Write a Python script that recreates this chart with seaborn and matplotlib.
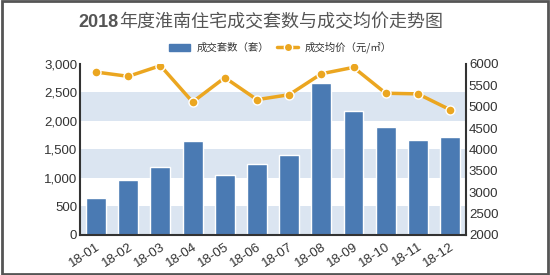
import matplotlib
matplotlib.use("Agg")
import matplotlib.pyplot as plt
import seaborn as sns
import pandas as pd
from matplotlib.patches import Rectangle
from matplotlib.lines import Line2D

months = ["18-01", "18-02", "18-03", "18-04", "18-05", "18-06",
          "18-07", "18-08", "18-09", "18-10", "18-11", "18-12"]
units = [650, 960, 1200, 1650, 1050, 1240, 1410, 2660, 2180, 1900, 1670, 1725]
prices = [5810, 5710, 5960, 5110, 5680, 5165, 5280, 5770, 5920, 5315, 5300, 4930]

left_ticks = [0, 500, 1000, 1500, 2000, 2500, 3000]
right_ticks = [2000, 2500, 3000, 3500, 4000, 4500, 5000, 5500, 6000]

sns.set_theme(style="white")
plt.rcParams['font.family'] = ['Liberation Sans', 'Noto Sans CJK SC', 'DejaVu Sans']

bar_color = "#4a7ab3"
line_color = "#eba620"
band_color = "#dbe5f1"
text_color = "#333333"

df = pd.DataFrame({"month": months, "units": units, "price": prices})

fig = plt.figure(figsize=(5.5, 2.75), dpi=100)
ax = fig.add_axes([0.1455, 0.1455, 0.702, 0.622])

for lo in [0, 1000, 2000]:
    ax.axhspan(lo, lo + 500, color=band_color, zorder=0, lw=0)

sns.barplot(data=df, x="month", y="units", color=bar_color, width=0.62,
            saturation=1, ax=ax, zorder=2)
ax.set_ylim(0, 3000)
ax.set_yticks(left_ticks)
ax.set_yticklabels([f"{v:,}" for v in left_ticks])
ax.set_xlabel("")
ax.set_ylabel("")
ax.set_xlim(-0.5, 11.5)

ax2 = ax.twinx()
sns.lineplot(x=list(range(len(months))), y=prices, ax=ax2, color=line_color,
             lw=2.5, marker="o", markersize=6.5, markeredgecolor="white",
             markeredgewidth=1.0, zorder=3)
ax2.set_ylim(2000, 6000)
ax2.set_yticks(right_ticks)
ax2.set_yticklabels([str(v) for v in right_ticks])
ax2.set_xlim(-0.5, 11.5)

for a in (ax, ax2):
    for s in a.spines.values():
        s.set_visible(False)
    a.tick_params(length=0, labelsize=9.5, colors=text_color, pad=2)
ax.spines['left'].set_visible(True)
ax.spines['bottom'].set_visible(True)
ax2.spines['right'].set_visible(True)
for s in [ax.spines['left'], ax.spines['bottom'], ax2.spines['right']]:
    s.set_color("#333333")
    s.set_linewidth(1.5)

for lab in ax.get_xticklabels():
    lab.set_rotation(33)
    lab.set_ha("right")
    lab.set_rotation_mode("anchor")
ax.tick_params(axis="x", pad=4)

# Title
fig.text(0.215, 0.918, "2018", ha="right", va="center", fontsize=13,
         fontweight="bold", color="#555555", family=["Liberation Sans"])
fig.text(0.217, 0.918, "年度淮南住宅成交套数与成交均价走势图", ha="left", va="center",
         fontsize=13, color="#555555", family=["Noto Sans CJK SC"])

# Legend
handles = [Rectangle((0, 0), 1, 1, color=bar_color),
           Line2D([0], [0], color=line_color, lw=2.5, marker="o", markersize=6,
                  markeredgecolor="white", markeredgewidth=1.0)]
leg = fig.legend(handles, ["成交套数（套）", "成交均价（元/㎡）"], loc="center",
                 bbox_to_anchor=(0.51, 0.827), ncol=2, frameon=False,
                 handlelength=2.0, columnspacing=0.8, handletextpad=0.6,
                 labelcolor=text_color,
                 prop={"family": ["Noto Sans CJK SC", "DejaVu Sans"], "size": 7.5})

# Frame
fig.patches.append(Rectangle((0.003, 0.005), 0.994, 0.99, transform=fig.transFigure,
                             fill=False, edgecolor="#555555", lw=2))

fig.savefig("out.png", dpi=100)
